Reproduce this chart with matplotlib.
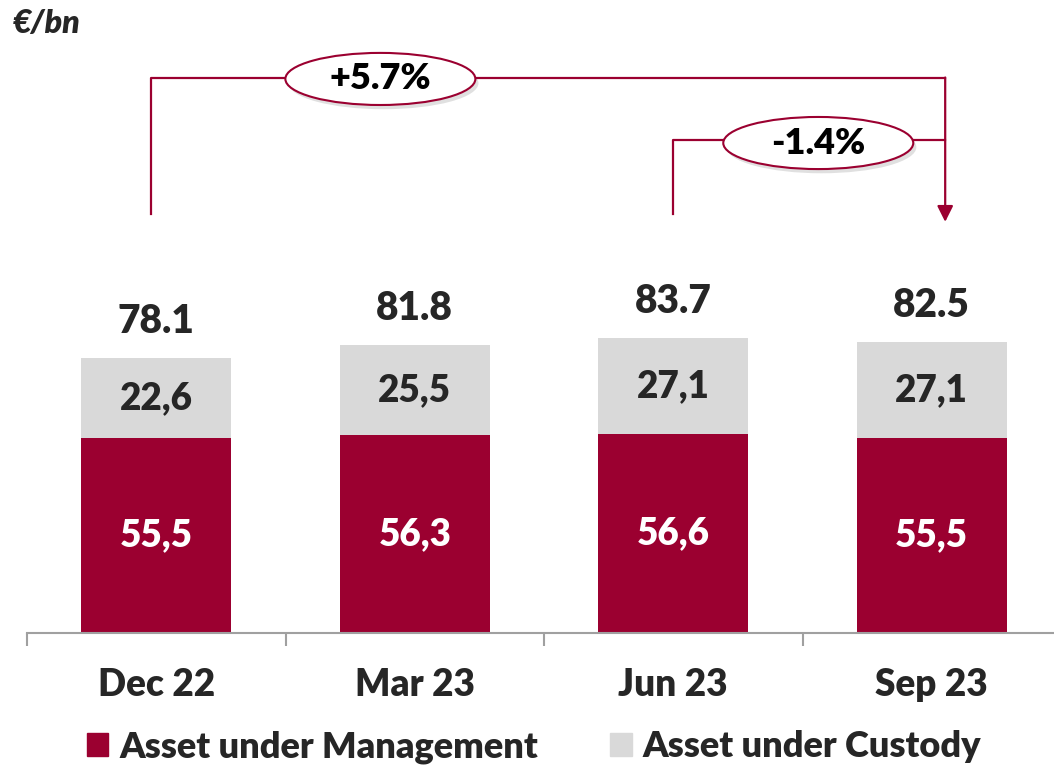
import matplotlib.pyplot as plt
from matplotlib.patches import Ellipse, Patch
import numpy as np

plt.rcParams['font.family'] = ['Lato', 'DejaVu Sans']
plt.rcParams['font.weight'] = 'heavy'

periods = ['Dec 22', 'Mar 23', 'Jun 23', 'Sep 23']
aum = [55.5, 56.3, 56.6, 55.5]
auc = [22.6, 25.5, 27.1, 27.1]
totals = [78.1, 81.8, 83.7, 82.5]
aum_labels = ['55,5', '56,3', '56,6', '55,5']
auc_labels = ['22,6', '25,5', '27,1', '27,1']
growth_labels = ['+5.7%', '-1.4%']

red = '#9B0030'
grey = '#D9D9D9'
dark = '#262626'
fw = 'heavy'

fig = plt.figure(figsize=(10.54, 7.66), dpi=100)
# axes: bottom at the axis line (y=633px), top at figure top
ax = fig.add_axes([27 / 1054, 133 / 766, 1034 / 1054, 633 / 766])
ax.set_xlim(-0.5, 3.5)
ax.set_ylim(0, 633 / 3.52)

x = np.arange(len(periods))
w = 0.58
ax.bar(x, aum, w, color=red, zorder=2)
ax.bar(x, auc, w, bottom=aum, color=grey, zorder=2)

for i in range(len(x)):
    ax.text(x[i], aum[i] / 2, aum_labels[i], ha='center', va='center',
            color='white', fontsize=26.5, fontweight=fw)
    ax.text(x[i], aum[i] + auc[i] / 2, auc_labels[i], ha='center', va='center',
            color=dark, fontsize=26.5, fontweight=fw)
    ax.text(x[i], totals[i] + 10.5, str(totals[i]), ha='center', va='center',
            color=dark, fontsize=28, fontweight=fw)

# growth brackets
xe = 3.052
ax.plot([-0.02, -0.02, xe], [119, 157.7, 157.7], color=red, lw=1.6, zorder=3)
ax.plot([2.0, 2.0, xe], [119, 140.0, 140.0], color=red, lw=1.6, zorder=3)
ax.annotate('', xy=(xe, 116.8), xytext=(xe, 157.8),
            arrowprops=dict(arrowstyle='-|>', mutation_scale=24, color=red,
                            lw=1.6, shrinkA=0, shrinkB=0), zorder=3)

for (cx, cy), lab in zip([(0.867, 157.4), (2.561, 139.2)], growth_labels):
    ax.add_patch(Ellipse((cx + 0.012, cy - 1.2), 0.735, 14.8, color='#000000',
                         alpha=0.12, lw=0, zorder=4))
    ax.add_patch(Ellipse((cx, cy), 0.735, 14.8, facecolor='white',
                         edgecolor=red, lw=1.5, zorder=5))
    ax.text(cx, cy, lab, ha='center', va='center', color='black',
            fontsize=26, fontweight=fw, zorder=6)

for s in ['top', 'right', 'left']:
    ax.spines[s].set_visible(False)
ax.spines['bottom'].set_color('#A0A0A0')
ax.spines['bottom'].set_linewidth(1.5)
ax.set_yticks([])
ax.set_xticks(x)
ax.set_xticklabels(periods, fontsize=26.6, fontweight=fw, color=dark)
ax.tick_params(axis='x', which='major', length=0, pad=25)
ax.set_xticks(np.arange(-0.5, 4, 1), minor=True)
ax.tick_params(axis='x', which='minor', length=9, width=1.5, color='#A0A0A0')

fig.text(13 / 1054, 1 - 24 / 766, '€/bn', fontsize=23, fontweight=fw,
         fontstyle='italic', color=dark, va='center')

handles = [Patch(color=red, label='Asset under Management'),
           Patch(color=grey, label='Asset under Custody')]
fig.legend(handles=handles, loc='center', bbox_to_anchor=(534 / 1054, 1 - 747 / 766),
           ncol=2, frameon=False, handlelength=0.6, handleheight=0.6,
           handletextpad=0.3, columnspacing=2.0, borderpad=0, labelcolor=dark,
           prop=dict(family=['Lato', 'DejaVu Sans'], size=26, weight=fw))

fig.savefig('out.png', dpi=100)
